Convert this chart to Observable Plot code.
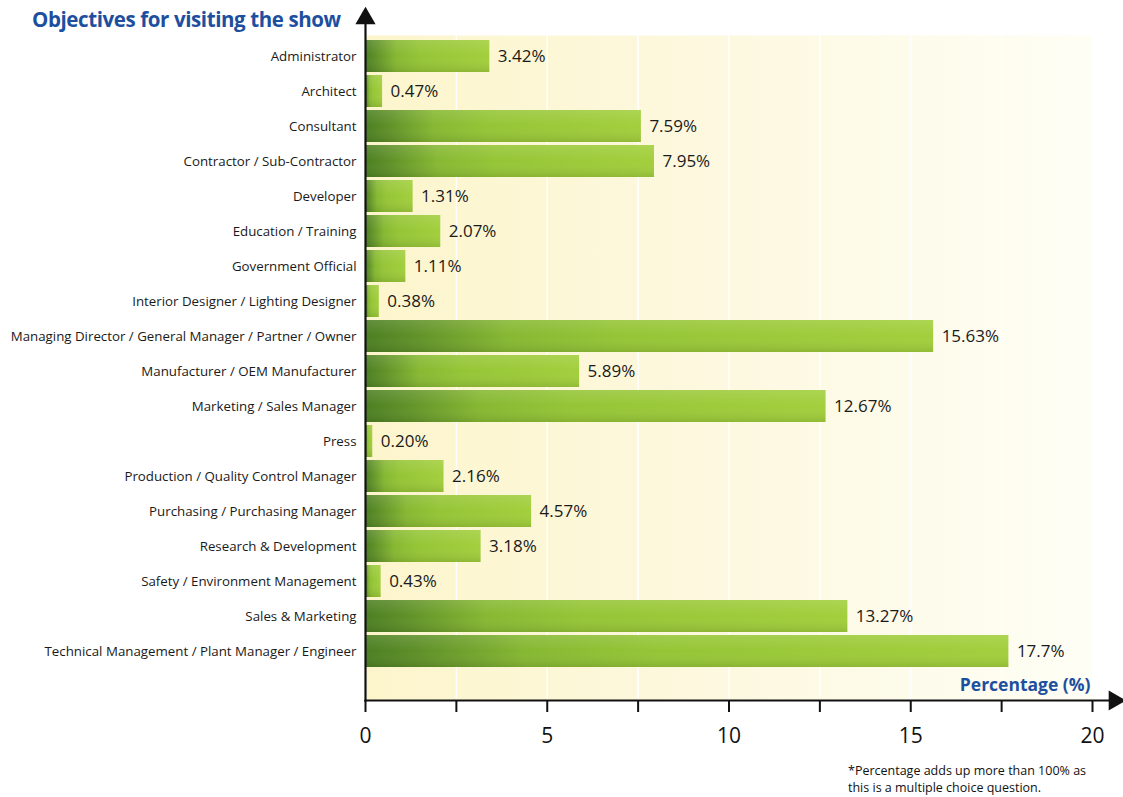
<!DOCTYPE html>
<html>
<head>
<meta charset="utf-8">
<script src="https://cdn.jsdelivr.net/npm/d3@7"></script>
<script src="https://cdn.jsdelivr.net/npm/@observablehq/plot@0.6"></script>
<style>
  body { margin: 0; background: #fff; }
  #wrap { position: relative; width: 1123px; height: 797px; font-family: "Open Sans", sans-serif; }
  #title { position: absolute; left: 32px; top: 5px; font-size: 20.5px; font-weight: 700; color: #1d4f9f; letter-spacing: -0.4px; }
  #note { position: absolute; left: 848px; top: 762px; font-size: 12.5px; line-height: 17px; color: #111; }
</style>
</head>
<body>
<div id="wrap">
  <div id="chart"></div>
  <div id="title">Objectives for visiting the show</div>
  <div id="note">*Percentage adds up more than 100% as<br>this is a multiple choice question.</div>
</div>
<script>
const categories = [
  "Administrator",
  "Architect",
  "Consultant",
  "Contractor / Sub-Contractor",
  "Developer",
  "Education / Training",
  "Government Official",
  "Interior Designer / Lighting Designer",
  "Managing Director / General Manager / Partner / Owner",
  "Manufacturer / OEM Manufacturer",
  "Marketing / Sales Manager",
  "Press",
  "Production / Quality Control Manager",
  "Purchasing / Purchasing Manager",
  "Research & Development",
  "Safety / Environment Management",
  "Sales & Marketing",
  "Technical Management / Plant Manager / Engineer"
];
const values = [3.42, 0.47, 7.59, 7.95, 1.31, 2.07, 1.11, 0.38, 15.63, 5.89, 12.67, 0.20, 2.16, 4.57, 3.18, 0.43, 13.27, 17.7];
const valueLabels = ["3.42%", "0.47%", "7.59%", "7.95%", "1.31%", "2.07%", "1.11%", "0.38%", "15.63%", "5.89%", "12.67%", "0.20%", "2.16%", "4.57%", "3.18%", "0.43%", "13.27%", "17.7%"];
const xTicks = [0, 2.5, 5, 7.5, 10, 12.5, 15, 17.5, 20];
const xLabelTicks = [0, 5, 10, 15, 20];

const data = categories.map((c, i) => ({category: c, value: values[i], label: valueLabels[i]}));

const chart = Plot.plot({
  width: 1123,
  height: 797,
  marginLeft: 365,
  marginRight: 31,
  marginTop: 35,
  marginBottom: 97,
  style: {fontFamily: "Open Sans, sans-serif", background: "transparent"},
  x: {domain: [0, 20]},
  y: {domain: categories, padding: 0.1, insetBottom: 29},
  marks: [
    Plot.frame({fill: "url(#bgGrad)", stroke: null}),
    Plot.gridX(xTicks, {stroke: "#ffffff", strokeOpacity: 0.9, strokeWidth: 1.5}),
    Plot.barX(data, {y: "category", x: "value", fill: "url(#barGrad)"}),
    Plot.barX(data, {y: "category", x: "value", fill: "url(#shadeGrad)"}),
    Plot.text(data, {y: "category", x: "value", text: "label", dx: 8, textAnchor: "start", fontSize: 17, fill: "#1a1a1a"}),
    Plot.axisY({tickSize: 0, tickPadding: 9, fontSize: 13.3, fill: "#1a1a1a", label: null}),
    Plot.axisX(xTicks, {tickSize: 12, tickPadding: 16, strokeWidth: 2, stroke: "#111", fontSize: 21, fill: "#111",
      tickFormat: d => xLabelTicks.includes(d) ? String(d) : "", label: null}),
    Plot.frame({anchor: "bottom", stroke: "#111", strokeWidth: 2.2, insetRight: -18}),
    Plot.frame({anchor: "left", stroke: "#111", strokeWidth: 2.2, insetTop: -14}),
    Plot.dot([20], {x: d => d, frameAnchor: "bottom", dx: 22, symbol: "triangle", rotate: 90, r: 7.5, fill: "#111", stroke: null}),
    Plot.dot([0], {x: d => d, frameAnchor: "top", dy: -17, symbol: "triangle", r: 7.5, fill: "#111", stroke: null}),
    Plot.text(["Percentage (%)"], {frameAnchor: "bottom-right", dx: -2, dy: -10, textAnchor: "end", fontSize: 17.5, fontWeight: 700, fill: "#1d4f9f"})
  ]
});

const svg = d3.select(chart);
const defs = svg.insert("defs", ":first-child");
const bg = defs.append("linearGradient").attr("id", "bgGrad").attr("x1", 0).attr("x2", 1).attr("y1", 0).attr("y2", 0);
bg.append("stop").attr("offset", "0%").attr("stop-color", "#fcf5cc");
bg.append("stop").attr("offset", "55%").attr("stop-color", "#fdf9e2");
bg.append("stop").attr("offset", "100%").attr("stop-color", "#fefef5");
const bar = defs.append("linearGradient").attr("id", "barGrad").attr("x1", 0).attr("x2", 1).attr("y1", 0).attr("y2", 0);
bar.append("stop").attr("offset", "0%").attr("stop-color", "#4b7f22");
bar.append("stop").attr("offset", "8%").attr("stop-color", "#5e8f28");
bar.append("stop").attr("offset", "25%").attr("stop-color", "#86b832");
bar.append("stop").attr("offset", "45%").attr("stop-color", "#95c536");
bar.append("stop").attr("offset", "100%").attr("stop-color", "#a2cf3c");
const shade = defs.append("linearGradient").attr("id", "shadeGrad").attr("x1", 0).attr("x2", 0).attr("y1", 0).attr("y2", 1);
shade.append("stop").attr("offset", "0%").attr("stop-color", "#ffffff").attr("stop-opacity", 0.12);
shade.append("stop").attr("offset", "50%").attr("stop-color", "#ffffff").attr("stop-opacity", 0);
shade.append("stop").attr("offset", "100%").attr("stop-color", "#000000").attr("stop-opacity", 0.1);

document.getElementById("chart").appendChild(chart);
</script>
</body>
</html>
